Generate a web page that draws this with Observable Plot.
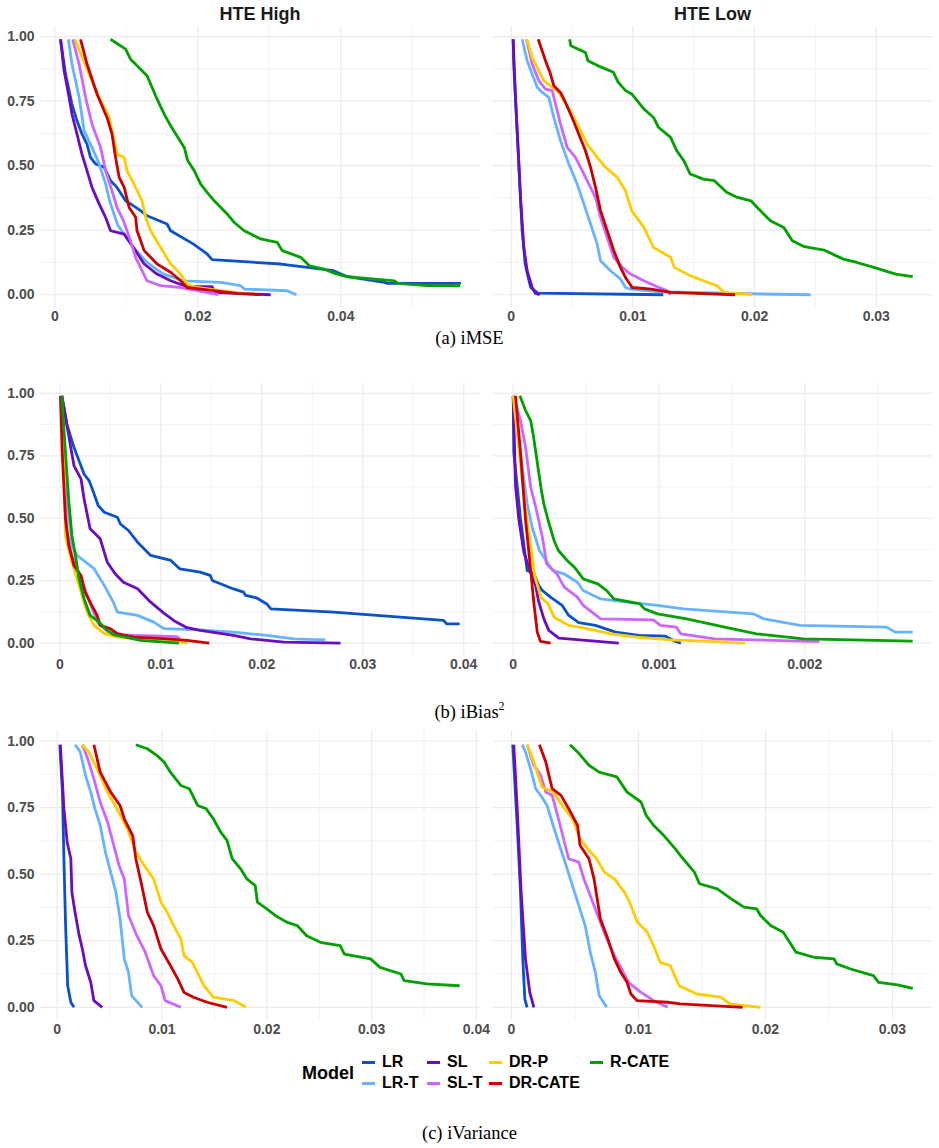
<!DOCTYPE html>
<html>
<head>
<meta charset="utf-8">
<script src="https://cdn.jsdelivr.net/npm/d3@7"></script>
<script src="https://cdn.jsdelivr.net/npm/@observablehq/plot@0.6"></script>
<style>
  html, body { margin: 0; padding: 0; background: #fff; }
  #fig { position: relative; width: 939px; height: 1148px; overflow: hidden; font-family: "Liberation Sans", Arial, sans-serif; }
  .panel { position: absolute; }
  .strip { position: absolute; font-weight: bold; font-size: 18px; color: #1a1a1a; transform: translate(-50%, -50%); white-space: nowrap; }
  .caption { position: absolute; left: 469.5px; transform: translate(-50%, -50%); font-family: "Liberation Serif", "Times New Roman", serif; font-size: 18.5px; color: #000; white-space: nowrap; }
  .caption sup { font-size: 12px; vertical-align: 8px; line-height: 0; }
  .legend-title { position: absolute; font-weight: bold; font-size: 18px; color: #000; transform: translateY(-50%); }
  .legend-item { position: absolute; transform: translateY(-50%); display: flex; align-items: center; font-weight: bold; font-size: 16px; color: #000; white-space: nowrap; }
  .legend-item .key { width: 13px; height: 3px; margin-right: 7px; }
</style>
</head>
<body>
<div id="fig"></div>
<script>
// Models, in plotting / legend order, and their colours
const models = ["LR", "LR-T", "SL", "SL-T", "DR-P", "DR-CATE", "R-CATE"];
const modelColors = ["#0a52c8", "#66b3ff", "#6a0dbf", "#cc66ff", "#ffcc00", "#cc0000", "#00a000"];

// Shared y axis: fraction of runs with error above x
const yTicks = [0, 0.25, 0.5, 0.75, 1];
const yTickLabels = ["0.00", "0.25", "0.50", "0.75", "1.00"];
const yMinor = [0.125, 0.375, 0.625, 0.875];

// ---- (a) iMSE, HTE High ----
const imseHigh = {
  "LR": [[0.0008,0.99],[0.0015,0.855],[0.0024,0.739],[0.0031,0.674],[0.0038,0.623],[0.0045,0.584],[0.005,0.532],[0.0057,0.507],[0.0069,0.494],[0.0078,0.442],[0.0087,0.416],[0.0099,0.364],[0.0106,0.352],[0.012,0.326],[0.0129,0.306],[0.0157,0.274],[0.0162,0.248],[0.0194,0.196],[0.0213,0.158],[0.022,0.136],[0.0316,0.119],[0.0362,0.103],[0.039,0.093],[0.0409,0.07],[0.0461,0.048],[0.0465,0.044],[0.0568,0.044]],
  "LR-T": [[0.0019,0.99],[0.0024,0.894],[0.0034,0.765],[0.0041,0.636],[0.0052,0.571],[0.0062,0.507],[0.0071,0.43],[0.0077,0.36],[0.0088,0.27],[0.0098,0.23],[0.011,0.183],[0.0129,0.125],[0.0152,0.08],[0.018,0.054],[0.0232,0.048],[0.026,0.035],[0.0265,0.022],[0.0325,0.0155],[0.0338,0]],
  "SL": [[0.0008,0.99],[0.0013,0.868],[0.002,0.765],[0.0024,0.7],[0.0031,0.623],[0.0038,0.545],[0.0045,0.481],[0.0052,0.416],[0.0062,0.352],[0.0071,0.3],[0.0078,0.248],[0.0097,0.235],[0.011,0.183],[0.0125,0.119],[0.0143,0.08],[0.0162,0.054],[0.0185,0.031],[0.022,0.031],[0.0225,0.008],[0.0302,0]],
  "SL-T": [[0.0025,0.99],[0.0034,0.894],[0.0043,0.765],[0.0052,0.662],[0.0064,0.571],[0.0071,0.481],[0.008,0.403],[0.0087,0.338],[0.0096,0.287],[0.0101,0.248],[0.0106,0.209],[0.0113,0.145],[0.0122,0.093],[0.0129,0.054],[0.0148,0.035],[0.0176,0.028],[0.0199,0.016],[0.0229,0]],
  "DR-P": [[0.0028,0.99],[0.0048,0.855],[0.0062,0.765],[0.0076,0.687],[0.0083,0.597],[0.0087,0.545],[0.0097,0.532],[0.0101,0.481],[0.0113,0.416],[0.0122,0.364],[0.0127,0.3],[0.0134,0.248],[0.0148,0.183],[0.0162,0.119],[0.0176,0.08],[0.0185,0.041],[0.0199,0.028],[0.0232,0.016],[0.0279,0]],
  "DR-CATE": [[0.0036,0.99],[0.0045,0.894],[0.0059,0.778],[0.0073,0.687],[0.008,0.623],[0.0085,0.532],[0.009,0.455],[0.0097,0.416],[0.0104,0.338],[0.0113,0.3],[0.0115,0.248],[0.0125,0.171],[0.0143,0.119],[0.0162,0.087],[0.0176,0.054],[0.0185,0.028],[0.0222,0.016],[0.0255,0.005],[0.0288,0]],
  "R-CATE": [[0.0078,0.99],[0.0099,0.952],[0.0106,0.913],[0.0129,0.849],[0.0141,0.771],[0.0153,0.7],[0.0162,0.655],[0.0181,0.571],[0.0186,0.519],[0.0195,0.481],[0.0204,0.429],[0.0213,0.397],[0.0223,0.364],[0.0241,0.313],[0.0251,0.28],[0.0265,0.248],[0.0288,0.216],[0.0311,0.203],[0.0318,0.171],[0.0344,0.145],[0.0356,0.112],[0.0377,0.099],[0.0391,0.083],[0.0409,0.07],[0.0475,0.054],[0.048,0.044],[0.0521,0.035],[0.0567,0.035]]
};
const imseHighTicks = [0, 0.02, 0.04];
const imseHighLabels = ["0", "0.02", "0.04"];
const imseHighMinor = [0.01, 0.03, 0.05];

// ---- (a) iMSE, HTE Low ----
const imseLow = {
  "LR": [[0.00016,0.99],[0.00035,0.765],[0.00063,0.507],[0.0009,0.248],[0.00115,0.119],[0.0014,0.067],[0.0016,0.028],[0.0022,0.006],[0.0125,0]],
  "LR-T": [[0.0009,0.99],[0.00131,0.907],[0.00172,0.855],[0.00214,0.804],[0.00255,0.784],[0.00309,0.765],[0.0035,0.687],[0.00405,0.597],[0.00473,0.507],[0.00542,0.429],[0.00597,0.352],[0.00652,0.274],[0.00707,0.196],[0.00734,0.132],[0.00816,0.093],[0.00898,0.061],[0.00939,0.028],[0.0098,0.022],[0.012,0.012],[0.019,0.004],[0.0246,0]],
  "SL": [[0.00016,0.99],[0.00021,0.894],[0.00049,0.636],[0.00076,0.377],[0.00104,0.183],[0.00131,0.093],[0.00172,0.028],[0.002,0.005],[0.00235,0]],
  "SL-T": [[0.00126,0.99],[0.00172,0.894],[0.00227,0.829],[0.00282,0.797],[0.00337,0.791],[0.00364,0.739],[0.00405,0.662],[0.0046,0.571],[0.00528,0.532],[0.00583,0.481],[0.00638,0.429],[0.00693,0.377],[0.00734,0.3],[0.00789,0.222],[0.00843,0.145],[0.00912,0.106],[0.0098,0.08],[0.0109,0.054],[0.012,0.031],[0.0128,0.016],[0.0131,0]],
  "DR-P": [[0.0013,0.99],[0.00172,0.92],[0.00227,0.868],[0.00268,0.829],[0.00323,0.81],[0.00391,0.784],[0.005,0.7],[0.00569,0.636],[0.00624,0.584],[0.00707,0.532],[0.00775,0.494],[0.00871,0.455],[0.00939,0.403],[0.0099,0.326],[0.0109,0.261],[0.0117,0.183],[0.0131,0.145],[0.0134,0.106],[0.0147,0.074],[0.0158,0.054],[0.0169,0.035],[0.0175,0.009],[0.0198,0]],
  "DR-CATE": [[0.00222,0.99],[0.00282,0.907],[0.00323,0.855],[0.0035,0.81],[0.00405,0.784],[0.00446,0.745],[0.005,0.687],[0.00555,0.623],[0.0061,0.558],[0.00652,0.494],[0.00693,0.416],[0.00734,0.326],[0.00789,0.248],[0.00843,0.171],[0.00898,0.106],[0.00939,0.067],[0.00994,0.028],[0.0115,0.022],[0.0131,0.009],[0.0184,0]],
  "R-CATE": [[0.0048,0.99],[0.0049,0.965],[0.0061,0.939],[0.0063,0.907],[0.0071,0.888],[0.0084,0.862],[0.0088,0.823],[0.0094,0.791],[0.0099,0.778],[0.0109,0.72],[0.0117,0.687],[0.0121,0.649],[0.0131,0.61],[0.0136,0.558],[0.0142,0.519],[0.0147,0.468],[0.0158,0.448],[0.0167,0.442],[0.0177,0.397],[0.0186,0.377],[0.0197,0.364],[0.0202,0.339],[0.0213,0.287],[0.0224,0.261],[0.0231,0.209],[0.0241,0.186],[0.0257,0.173],[0.0273,0.138],[0.0284,0.125],[0.0298,0.106],[0.0316,0.08],[0.033,0.07]]
};
const imseLowTicks = [0, 0.01, 0.02, 0.03];
const imseLowLabels = ["0", "0.01", "0.02", "0.03"];
const imseLowMinor = [0.005, 0.015, 0.025];

// ---- (b) iBias², HTE High ----
const biasHigh = {
  "LR": [[0.0002,0.99],[0.0007,0.877],[0.0014,0.784],[0.0024,0.677],[0.0029,0.651],[0.0034,0.597],[0.0038,0.551],[0.0044,0.524],[0.0057,0.504],[0.006,0.477],[0.0068,0.451],[0.0077,0.404],[0.009,0.351],[0.011,0.331],[0.0119,0.297],[0.0139,0.284],[0.0149,0.271],[0.0151,0.251],[0.0172,0.217],[0.0182,0.204],[0.0184,0.191],[0.0195,0.181],[0.0205,0.157],[0.0209,0.137],[0.0271,0.124],[0.0314,0.111],[0.038,0.091],[0.0383,0.077],[0.0396,0.077]],
  "LR-T": [[0.0001,0.99],[0.0003,0.85],[0.0007,0.6],[0.0012,0.391],[0.0017,0.351],[0.0034,0.298],[0.0044,0.231],[0.0053,0.164],[0.0057,0.124],[0.0077,0.111],[0.0093,0.084],[0.0103,0.058],[0.0139,0.053],[0.0172,0.044],[0.0205,0.031],[0.0232,0.017],[0.0263,0.013]],
  "SL": [[0.0002,0.99],[0.0008,0.85],[0.0014,0.711],[0.0021,0.658],[0.0024,0.578],[0.003,0.458],[0.004,0.418],[0.0047,0.324],[0.0055,0.277],[0.0063,0.244],[0.0077,0.218],[0.009,0.164],[0.0103,0.12],[0.0113,0.09],[0.0126,0.062],[0.0139,0.051],[0.0172,0.031],[0.0189,0.017],[0.0222,0.004],[0.0278,0]],
  "SL-T": [[0.0001,0.99],[0.0004,0.75],[0.0007,0.45],[0.0012,0.35],[0.002,0.27],[0.003,0.16],[0.0038,0.08],[0.0048,0.045],[0.006,0.033],[0.0116,0.026],[0.0123,0]],
  "DR-P": [[0.0001,0.99],[0.0004,0.764],[0.00056,0.431],[0.0011,0.338],[0.0016,0.271],[0.0021,0.204],[0.0027,0.124],[0.0034,0.071],[0.0044,0.038],[0.0057,0.024],[0.0106,0.015],[0.0126,0]],
  "DR-CATE": [[0.00007,0.99],[0.00024,0.764],[0.00056,0.498],[0.00089,0.391],[0.0014,0.311],[0.0021,0.271],[0.0025,0.204],[0.003,0.164],[0.0037,0.111],[0.004,0.071],[0.005,0.058],[0.0057,0.038],[0.0073,0.024],[0.0106,0.017],[0.0126,0.011],[0.0148,0]],
  "R-CATE": [[0.0002,0.99],[0.00056,0.764],[0.0009,0.564],[0.0012,0.431],[0.0016,0.338],[0.0019,0.258],[0.0024,0.178],[0.003,0.111],[0.0039,0.084],[0.0045,0.058],[0.0053,0.034],[0.008,0.011],[0.0118,0]]
};
const biasHighTicks = [0, 0.01, 0.02, 0.03, 0.04];
const biasHighLabels = ["0", "0.01", "0.02", "0.03", "0.04"];
const biasHighMinor = [0.005, 0.015, 0.025, 0.035];

// ---- (b) iBias², HTE Low ----
const biasLow = {
  "LR": [[0,0.99],[0.000004,0.764],[0.00005,0.498],[0.000096,0.291],[0.000141,0.278],[0.000176,0.231],[0.000199,0.211],[0.000256,0.184],[0.000336,0.151],[0.000381,0.111],[0.00045,0.082],[0.000564,0.071],[0.000702,0.044],[0.000861,0.031],[0.001045,0.028],[0.001113,0.007],[0.00115,0]],
  "LR-T": [[0,0.99],[0.00004,0.8],[0.000096,0.557],[0.00013,0.464],[0.00018,0.371],[0.00027,0.291],[0.00035,0.277],[0.00044,0.244],[0.00048,0.211],[0.0006,0.177],[0.00078,0.164],[0.00099,0.151],[0.00117,0.137],[0.00165,0.117],[0.00172,0.097],[0.00197,0.071],[0.00256,0.064],[0.00262,0.044],[0.00274,0.044]],
  "SL": [[0,0.99],[0.000016,0.631],[0.000038,0.498],[0.000073,0.364],[0.000119,0.284],[0.000153,0.231],[0.000176,0.164],[0.00021,0.098],[0.000244,0.051],[0.000313,0.02],[0.000724,0]],
  "SL-T": [[0,0.99],[0.00005,0.891],[0.000085,0.784],[0.00012,0.624],[0.00016,0.531],[0.0002,0.424],[0.00023,0.317],[0.0003,0.277],[0.00035,0.224],[0.00044,0.184],[0.00048,0.151],[0.0006,0.097],[0.00096,0.093],[0.00101,0.071],[0.00112,0.064],[0.00115,0.037],[0.00138,0.017],[0.0021,0.006]],
  "DR-P": [[0,0.99],[0.00005,0.717],[0.000085,0.531],[0.00012,0.384],[0.00015,0.264],[0.00019,0.184],[0.00024,0.157],[0.00028,0.104],[0.00038,0.071],[0.00048,0.061],[0.00067,0.037],[0.00085,0.024],[0.00108,0.013],[0.00131,0.008],[0.00159,0]],
  "DR-CATE": [[0.000016,0.99],[0.00005,0.764],[0.000084,0.498],[0.000119,0.298],[0.000141,0.164],[0.000165,0.044],[0.000187,0.007],[0.000256,0]],
  "R-CATE": [[0.000046,0.99],[0.000085,0.931],[0.00012,0.891],[0.00014,0.824],[0.00016,0.744],[0.00019,0.624],[0.00021,0.557],[0.00024,0.491],[0.00028,0.411],[0.00031,0.371],[0.00037,0.331],[0.00042,0.304],[0.00048,0.257],[0.00058,0.237],[0.00064,0.211],[0.00069,0.177],[0.00087,0.157],[0.0009,0.137],[0.00099,0.117],[0.00119,0.097],[0.00145,0.064],[0.00167,0.037],[0.00199,0.017],[0.00274,0.008]]
};
const biasLowTicks = [0, 0.001, 0.002];
const biasLowLabels = ["0", "0.001", "0.002"];
const biasLowMinor = [0.0005, 0.0015, 0.0025];

// ---- (c) iVariance, HTE High ----
const varHigh = {
  "LR": [[0.00025,0.986],[0.0005,0.808],[0.00064,0.558],[0.0008,0.307],[0.001,0.081],[0.0013,0.019],[0.0016,0]],
  "LR-T": [[0.0017,0.986],[0.0022,0.959],[0.0027,0.871],[0.0032,0.808],[0.0036,0.746],[0.0041,0.683],[0.0046,0.583],[0.0051,0.508],[0.0056,0.432],[0.006,0.332],[0.0064,0.182],[0.0068,0.132],[0.0071,0.044],[0.0081,0]],
  "SL": [[0.0003,0.986],[0.00064,0.746],[0.00095,0.62],[0.0013,0.558],[0.0014,0.432],[0.0017,0.357],[0.0021,0.269],[0.0024,0.219],[0.0027,0.157],[0.0032,0.094],[0.0035,0.025],[0.0043,0]],
  "SL-T": [[0.0024,0.986],[0.0029,0.934],[0.0035,0.858],[0.0041,0.771],[0.0048,0.696],[0.0054,0.608],[0.0059,0.533],[0.0064,0.482],[0.0068,0.345],[0.0076,0.269],[0.0084,0.207],[0.0092,0.119],[0.0099,0.081],[0.0103,0.025],[0.0118,0]],
  "DR-P": [[0.0024,0.986],[0.003,0.959],[0.0038,0.896],[0.0048,0.808],[0.0057,0.746],[0.0067,0.67],[0.0075,0.583],[0.0083,0.533],[0.0092,0.482],[0.0099,0.395],[0.0105,0.357],[0.0111,0.307],[0.0118,0.257],[0.0121,0.194],[0.0129,0.169],[0.014,0.081],[0.0149,0.038],[0.0169,0.025],[0.018,0]],
  "DR-CATE": [[0.0035,0.986],[0.0041,0.883],[0.0051,0.808],[0.006,0.758],[0.0064,0.708],[0.0072,0.645],[0.0075,0.558],[0.008,0.47],[0.0086,0.357],[0.0092,0.307],[0.0099,0.219],[0.0108,0.157],[0.0115,0.107],[0.0121,0.056],[0.013,0.038],[0.0143,0.019],[0.0162,0]],
  "R-CATE": [[0.0075,0.986],[0.0086,0.971],[0.0095,0.946],[0.0102,0.921],[0.0108,0.883],[0.0118,0.833],[0.0126,0.821],[0.0134,0.758],[0.0142,0.746],[0.0149,0.708],[0.0156,0.658],[0.0162,0.627],[0.0167,0.558],[0.0175,0.52],[0.0181,0.482],[0.0189,0.457],[0.0191,0.395],[0.02,0.37],[0.0208,0.345],[0.0219,0.32],[0.0229,0.307],[0.0238,0.269],[0.0251,0.244],[0.027,0.232],[0.0274,0.2],[0.0299,0.182],[0.0308,0.15],[0.0328,0.125],[0.0331,0.1],[0.0353,0.088],[0.0384,0.081]]
};
const varHighTicks = [0, 0.01, 0.02, 0.03, 0.04];
const varHighLabels = ["0", "0.01", "0.02", "0.03", "0.04"];
const varHighMinor = [0.005, 0.015, 0.025, 0.035];

// ---- (c) iVariance, HTE Low ----
const varLow = {
  "LR": [[0.0001,0.986],[0.00045,0.683],[0.00071,0.432],[0.00089,0.182],[0.00105,0.031],[0.00123,0]],
  "LR-T": [[0.00084,0.986],[0.0011,0.959],[0.0015,0.896],[0.0019,0.821],[0.0023,0.796],[0.0028,0.758],[0.0032,0.695],[0.0037,0.62],[0.0043,0.533],[0.0048,0.457],[0.0053,0.382],[0.0058,0.307],[0.0062,0.207],[0.0066,0.132],[0.0069,0.044],[0.0075,0]],
  "SL": [[0.00018,0.986],[0.00045,0.746],[0.00076,0.432],[0.0011,0.182],[0.00144,0.056],[0.00176,0]],
  "SL-T": [[0.00123,0.986],[0.00176,0.909],[0.0023,0.871],[0.0027,0.808],[0.0032,0.796],[0.0037,0.708],[0.0041,0.633],[0.0045,0.558],[0.0053,0.545],[0.0057,0.482],[0.0062,0.42],[0.0069,0.332],[0.0075,0.257],[0.0081,0.194],[0.0086,0.15],[0.0092,0.094],[0.0102,0.056],[0.0112,0.025],[0.0123,0]],
  "DR-P": [[0.00123,0.986],[0.00176,0.921],[0.0024,0.827],[0.0033,0.808],[0.004,0.758],[0.0048,0.708],[0.0054,0.633],[0.006,0.595],[0.0067,0.558],[0.0073,0.508],[0.0081,0.482],[0.0089,0.432],[0.0093,0.395],[0.0099,0.32],[0.0107,0.282],[0.0113,0.219],[0.0117,0.169],[0.0125,0.157],[0.0132,0.081],[0.0146,0.05],[0.0165,0.038],[0.0172,0.013],[0.0196,0]],
  "DR-CATE": [[0.0022,0.986],[0.0027,0.921],[0.0032,0.821],[0.0039,0.796],[0.0045,0.746],[0.0052,0.683],[0.0054,0.608],[0.0061,0.558],[0.0065,0.482],[0.007,0.332],[0.0075,0.269],[0.0081,0.182],[0.0086,0.132],[0.0091,0.094],[0.0094,0.05],[0.0099,0.025],[0.0123,0.019],[0.0133,0.013],[0.0182,0]],
  "R-CATE": [[0.0046,0.986],[0.0052,0.959],[0.0061,0.909],[0.0069,0.883],[0.0083,0.865],[0.0091,0.808],[0.0102,0.771],[0.0106,0.721],[0.0112,0.683],[0.012,0.645],[0.0129,0.595],[0.0133,0.57],[0.0144,0.508],[0.0148,0.464],[0.0162,0.445],[0.0175,0.401],[0.0183,0.376],[0.0193,0.37],[0.0196,0.345],[0.0204,0.307],[0.0214,0.282],[0.0224,0.207],[0.0238,0.188],[0.0254,0.182],[0.0256,0.163],[0.0267,0.144],[0.0285,0.119],[0.0289,0.094],[0.0304,0.084],[0.0316,0.071]]
};
const varLowTicks = [0, 0.01, 0.02, 0.03];
const varLowLabels = ["0", "0.01", "0.02", "0.03"];
const varLowMinor = [0.005, 0.015, 0.025];

// ---------------------------------------------------------------
const fig = document.getElementById("fig");
const gridColor = "#ebebeb";

function toRows(series) {
  return models.flatMap(m => series[m].map(([x, y]) => ({model: m, x, y})));
}

// One facet panel: light grid, bold grey tick labels, one line per model
function panel({series, xDomain, ticks, labels, minor, showY, left, top, width, height, mTop, mBottom, mLeft, mRight}) {
  const svg = Plot.plot({
    width, height,
    marginTop: mTop, marginBottom: mBottom, marginLeft: mLeft, marginRight: mRight,
    style: {background: "transparent", overflow: "visible", color: "#4d4d4d",
            fontFamily: "'Liberation Sans', Arial, sans-serif", fontSize: "14px", fontWeight: "bold"},
    x: {domain: xDomain, ticks, tickFormat: d => labels[ticks.indexOf(d)], tickSize: 0, tickPadding: 4, label: null},
    y: {domain: [-0.0495, 1.0395], ticks: yTicks, tickFormat: d => yTickLabels[yTicks.indexOf(d)],
        tickSize: 0, tickPadding: 6, label: null, axis: showY ? "left" : null},
    color: {domain: models, range: modelColors},
    marks: [
      Plot.ruleX(minor, {stroke: gridColor, strokeWidth: 0.6}),
      Plot.ruleY(yMinor, {stroke: gridColor, strokeWidth: 0.6}),
      Plot.ruleX(ticks, {stroke: gridColor, strokeWidth: 1.2}),
      Plot.ruleY(yTicks, {stroke: gridColor, strokeWidth: 1.2}),
      Plot.line(toRows(series), {x: "x", y: "y", z: "model", stroke: "model",
        strokeWidth: 2.8, strokeLinejoin: "round", strokeLinecap: "butt"})
    ]
  });
  svg.classList.add("panel");
  svg.style.left = left + "px";
  svg.style.top = top + "px";
  fig.appendChild(svg);
}

// Panel frames: left column spans x 40–480, right column 493–932
const L = {left: 0, width: 490, mLeft: 40, mRight: 10};
const R = {left: 483, width: 456, mLeft: 10, mRight: 7};
const rowA = {top: 0, height: 332, mTop: 26, mBottom: 25};
const rowB = {top: 373, height: 307, mTop: 10, mBottom: 25};
const rowC = {top: 720, height: 322, mTop: 10, mBottom: 22};

// x domains include the usual 5% padding around the data range
panel({...L, ...rowA, series: imseHigh, xDomain: [-0.002, 0.05954], ticks: imseHighTicks, labels: imseHighLabels, minor: imseHighMinor, showY: true});
panel({...R, ...rowA, series: imseLow, xDomain: [-0.001454, 0.03462], ticks: imseLowTicks, labels: imseLowLabels, minor: imseLowMinor, showY: false});
panel({...L, ...rowB, series: biasHigh, xDomain: [-0.001911, 0.04166], ticks: biasHighTicks, labels: biasHighLabels, minor: biasHighMinor, showY: true});
panel({...R, ...rowB, series: biasLow, xDomain: [-0.0001351, 0.002876], ticks: biasLowTicks, labels: biasLowLabels, minor: biasLowMinor, showY: false});
panel({...L, ...rowC, series: varHigh, xDomain: [-0.001594, 0.04039], ticks: varHighTicks, labels: varHighLabels, minor: varHighMinor, showY: true});
panel({...R, ...rowC, series: varLow, xDomain: [-0.001417, 0.03315], ticks: varLowTicks, labels: varLowLabels, minor: varLowMinor, showY: false});

// Facet strip titles
function addDiv(cls, html, x, y) {
  const d = document.createElement("div");
  d.className = cls;
  d.innerHTML = html;
  if (x != null) d.style.left = x + "px";
  d.style.top = y + "px";
  fig.appendChild(d);
  return d;
}
addDiv("strip", "HTE High", 260, 14);
addDiv("strip", "HTE Low", 712.5, 14);

// Sub-figure captions
addDiv("caption", "(a) iMSE", null, 338);
addDiv("caption", "(b) iBias<sup>2</sup>", null, 712);
addDiv("caption", "(c) iVariance", null, 1133);

// Legend: two rows, filled column by column
addDiv("legend-title", "Model", 302, 1073);
const legendCols = [362, 427, 489, 590];
const legendRows = [1062, 1083];
models.forEach((m, i) => {
  const col = Math.floor(i / 2), row = i % 2;
  const item = addDiv("legend-item", "", legendCols[col], legendRows[row]);
  const key = document.createElement("span");
  key.className = "key";
  key.style.background = modelColors[i];
  const label = document.createElement("span");
  label.textContent = m;
  item.appendChild(key);
  item.appendChild(label);
});
</script>
</body>
</html>
